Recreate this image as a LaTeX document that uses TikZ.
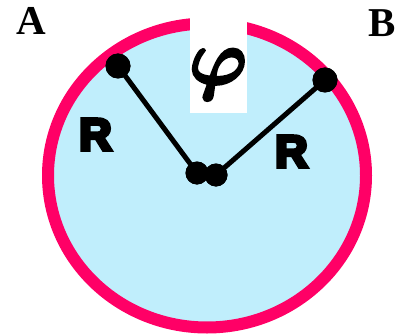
\RequirePackage{fix-cm}
\documentclass[tikz,border=0pt]{standalone}
\usepackage{fontspec}
\usepackage{amsmath,bm}
\DeclareMathSizes{80}{80}{60}{50}
\newfontfamily\lblfont{Liberation Serif}
\newfontfamily\rfont[FakeBold=8]{Liberation Sans}
\definecolor{ringred}{RGB}{255,0,102}
\definecolor{discblue}{RGB}{192,238,252}
\newcommand{\phiglyph}{\special{pdf:literal direct 2 Tr 2.4 w}\fontsize{78}{78}\selectfont$\bm{\varphi}$\special{pdf:literal direct 0 Tr}}
\tikzset{
  dot/.style={circle,fill=black,inner sep=0pt,minimum size=25pt},
  cdot/.style={circle,fill=black,inner sep=0pt,minimum size=23pt},
  radius line/.style={line width=5pt,black},
  phi label/.style={inner sep=0pt,anchor=base},
  corner label/.style={inner sep=0pt,anchor=base west,font=\lblfont\bfseries\fontsize{41}{41}\selectfont},
  r label/.style={inner sep=0pt,anchor=base west,font=\rfont\bfseries\fontsize{45}{45}\selectfont}
}
\begin{document}
\begin{tikzpicture}[x=1pt,y=-1pt]
\useasboundingbox (0,0) rectangle (404,334);
\fill[white] (0,0) rectangle (404,334);
% disc and ring
\draw[ringred,line width=12pt,fill=discblue] (207,175.5) ellipse [x radius=159, y radius=152];
% white label patch
\fill[white] (190,8) rectangle (247,113);
\node[phi label] (phi) at (218,84) {\phiglyph};
% labels
\node[corner label] (A) at (16,35) {A};
\node[corner label] (B) at (368,37) {B};
\node[r label] (R1) at (79,150) {R};
\node[r label] (R2) at (275,167) {R};
% points
\node[dot] (a) at (118,66) {};
\node[dot] (b) at (325,80) {};
\node[cdot] (c1) at (197,173) {};
\node[cdot] (c2) at (216,175) {};
\draw[radius line] (a.center) -- (c1.center);
\draw[radius line] (b.center) -- (c2.center);
\node[dot] at (a) {};
\node[dot] at (b) {};
\node[cdot] at (c1) {};
\node[cdot] at (c2) {};
\end{tikzpicture}
\end{document}
